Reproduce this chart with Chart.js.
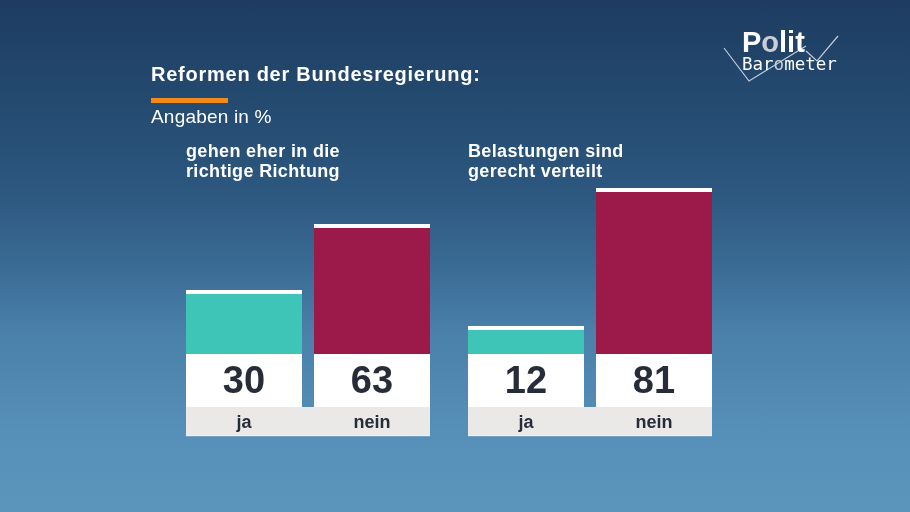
<!DOCTYPE html>
<html>
<head>
<meta charset="utf-8">
<script src="https://cdn.jsdelivr.net/npm/chart.js@4/dist/chart.umd.min.js"></script>
<style>
  html, body { margin: 0; padding: 0; }
  body { width: 910px; height: 512px; overflow: hidden;
    background: linear-gradient(180deg, #1e3c61 0%, #244a70 20%, #2d5880 38%, #3a6b94 52%, #4a80aa 65%, #5690b8 85%, #5c95bc 100%); }
  #wrap { position: absolute; left: 0; top: 0; width: 910px; height: 512px; }
</style>
</head>
<body>
<div id="wrap"><canvas id="c" width="910" height="512"></canvas></div>
<script>
// ---- data ----
const questions = [["gehen eher in die", "richtige Richtung"], ["Belastungen sind", "gerecht verteilt"]];
const answerLabels = ["ja", "nein"];
const jaValues = [30, 12];
const neinValues = [63, 81];
const titleText = "Reformen der Bundesregierung:";
const subtitleText = "Angaben in %";

const FONT = "'Liberation Sans', Arial, Helvetica, sans-serif";

const decorPlugin = {
  id: 'decor',
  beforeDatasetsDraw(chart) {
    const ctx = chart.ctx;
    const ys = chart.scales.y;
    const base = ys.getPixelForValue(0);
    ctx.save();
    // grey label bands per group
    for (let i = 0; i < questions.length; i++) {
      const m0 = chart.getDatasetMeta(0).data[i];
      const m1 = chart.getDatasetMeta(1).data[i];
      const left = m0.x - m0.width / 2, right = m1.x + m1.width / 2;
      ctx.fillStyle = '#eae9e8';
      ctx.fillRect(left, base + 53, right - left, 29);
      ctx.fillStyle = 'rgba(255,255,255,0.35)';
      ctx.fillRect(left, base + 81, right - left, 1.5);
    }
    // white value boxes
    chart.data.datasets.forEach((ds, di) => {
      chart.getDatasetMeta(di).data.forEach((bar) => {
        ctx.fillStyle = '#ffffff';
        ctx.fillRect(bar.x - bar.width / 2, base, bar.width, 53);
      });
    });
    ctx.restore();
  },
  afterDatasetsDraw(chart) {
    const ctx = chart.ctx;
    const ys = chart.scales.y;
    const base = ys.getPixelForValue(0);
    ctx.save();
    chart.data.datasets.forEach((ds, di) => {
      chart.getDatasetMeta(di).data.forEach((bar, i) => {
        // white cap
        ctx.fillStyle = '#ffffff';
        ctx.fillRect(bar.x - bar.width / 2, bar.y - 4, bar.width, 4);
        // value
        ctx.fillStyle = '#272c38';
        ctx.font = 'bold 38px ' + FONT;
        ctx.textAlign = 'center';
        ctx.textBaseline = 'alphabetic';
        ctx.fillText(String(ds.data[i]), bar.x, base + 39);
        // answer label
        ctx.font = 'bold 18px ' + FONT;
        ctx.fillText(answerLabels[di], bar.x, base + 74);
      });
    });
    // question titles above groups
    ctx.fillStyle = '#ffffff';
    ctx.font = 'bold 18px ' + FONT;
    ctx.textAlign = 'left';
    ctx.letterSpacing = '0.35px';
    for (let i = 0; i < questions.length; i++) {
      const m0 = chart.getDatasetMeta(0).data[i];
      const left = m0.x - m0.width / 2;
      questions[i].forEach((line, li) => ctx.fillText(line, left, 157 + li * 20));
    }
    // main title
    ctx.font = 'bold 20px ' + FONT;
    ctx.letterSpacing = '0.75px';
    ctx.fillText(titleText, 151, 81);
    ctx.letterSpacing = '0px';
    ctx.fillStyle = '#f28a1a';
    ctx.fillRect(151, 98, 77, 5);
    ctx.fillStyle = '#ffffff';
    ctx.font = '19px ' + FONT;
    ctx.letterSpacing = '0.2px';
    ctx.fillText(subtitleText, 151, 123);
    ctx.letterSpacing = '0px';
    // logo
    ctx.strokeStyle = 'rgba(220,228,238,0.85)';
    ctx.lineWidth = 1.2;
    ctx.beginPath();
    ctx.moveTo(724, 48); ctx.lineTo(749, 81); ctx.lineTo(806, 46);
    ctx.moveTo(806, 51); ctx.lineTo(817, 61); ctx.lineTo(838, 36);
    ctx.stroke();
    ctx.font = 'bold 29px ' + FONT;
    ctx.fillStyle = '#ffffff';
    ctx.fillText('P', 742, 52);
    let px = 742 + ctx.measureText('P').width;
    ctx.fillStyle = '#c9ced6';
    ctx.fillText('o', px, 52);
    px += ctx.measureText('o').width;
    ctx.fillStyle = '#ffffff';
    ctx.fillText('lit', px, 52);
    ctx.font = '17.5px "DejaVu Sans Mono", monospace';
    ctx.fillText('Bar', 742, 70);
    let bx = 742 + ctx.measureText('Bar').width;
    ctx.fillStyle = '#c9ced6';
    ctx.fillText('o', bx, 70);
    bx += ctx.measureText('o').width;
    ctx.fillStyle = '#ffffff';
    ctx.fillText('meter', bx, 70);
    ctx.restore();
  }
};

new Chart(document.getElementById('c'), {
  type: 'bar',
  data: {
    labels: questions,
    datasets: [
      { label: answerLabels[0], data: jaValues, backgroundColor: '#3ec5b7' },
      { label: answerLabels[1], data: neinValues, backgroundColor: '#9c1a49' }
    ]
  },
  options: {
    responsive: false,
    animation: false,
    devicePixelRatio: 1,
    categoryPercentage: 256 / 282,
    barPercentage: 116 / 128,
    layout: { padding: { left: 167, right: 179, top: 154, bottom: 158 } },
    plugins: { legend: { display: false }, tooltip: { enabled: false }, title: { display: false } },
    scales: {
      x: { display: false, offset: true },
      y: { display: false, min: 0, max: 100 }
    }
  },
  plugins: [decorPlugin]
});
</script>
</body>
</html>
